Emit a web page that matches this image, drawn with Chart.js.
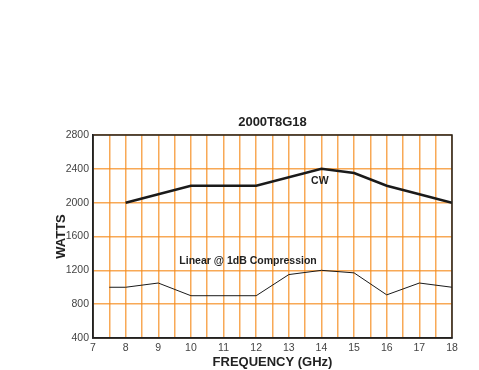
<!DOCTYPE html>
<html>
<head>
<meta charset="utf-8">
<script src="https://cdn.jsdelivr.net/npm/chart.js@4.4.0/dist/chart.umd.min.js"></script>
<style>
  html, body { margin: 0; padding: 0; background: #fff; }
  #wrap { width: 479px; height: 370px; }
</style>
</head>
<body>
<div id="wrap"><canvas id="myChart" width="479" height="370"></canvas></div>
<script>
// values
const cwFreq = [8, 10, 12, 14, 15, 16, 17, 18];
const cwWatts = [2000, 2200, 2200, 2400, 2350, 2200, 2100, 2000];
const linFreq = [7.5, 8, 9, 10, 12, 13, 14, 15, 16, 17, 18];
const linWatts = [1000, 1000, 1050, 900, 900, 1150, 1200, 1170, 910, 1050, 1000];
const yTicks = [400, 800, 1200, 1600, 2000, 2400, 2800];
const xTicks = [7, 8, 9, 10, 11, 12, 13, 14, 15, 16, 17, 18];

const gridOrange = 'rgba(245, 140, 30, 0.75)';
const fontFam = '"Liberation Sans", Arial, sans-serif';

function toPoints(xs, ys) {
  return xs.map((x, i) => ({ x: x, y: ys[i] }));
}

// frame, title and curve labels
const extras = {
  id: 'extras',
  afterDatasetsDraw(chart) {
    const ctx = chart.ctx;
    const a = chart.chartArea;
    const xs = chart.scales.x, ys = chart.scales.y;
    ctx.save();
    ctx.strokeStyle = '#222';
    ctx.lineWidth = 1.5;
    ctx.strokeRect(a.left, a.top, a.right - a.left, a.bottom - a.top);
    ctx.fillStyle = '#222';
    ctx.textAlign = 'center';
    ctx.textBaseline = 'middle';
    ctx.font = 'bold 13px ' + fontFam;
    ctx.fillText('2000T8G18', (a.left + a.right) / 2, a.top - 12.5);
    ctx.font = 'bold 10.5px ' + fontFam;
    ctx.fillText('CW', xs.getPixelForValue(13.95), ys.getPixelForValue(2250));
    ctx.fillText('Linear @ 1dB Compression', xs.getPixelForValue(11.75), ys.getPixelForValue(1305));
    ctx.restore();
  }
};

new Chart(document.getElementById('myChart').getContext('2d'), {
  type: 'line',
  data: {
    datasets: [{
      label: 'CW',
      data: toPoints(cwFreq, cwWatts),
      borderColor: '#1a1a1a',
      borderWidth: 2.5,
      pointRadius: 0,
      tension: 0
    }, {
      label: 'Linear @ 1dB Compression',
      data: toPoints(linFreq, linWatts),
      borderColor: '#1a1a1a',
      borderWidth: 1,
      pointRadius: 0,
      tension: 0
    }]
  },
  options: {
    responsive: false,
    animation: false,
    layout: { padding: { left: 0, right: 27, top: 135, bottom: 0 } },
    plugins: {
      legend: { display: false },
      tooltip: { enabled: false },
      title: { display: false }
    },
    scales: {
      x: {
        type: 'linear',
        min: 7,
        max: 18,
        afterBuildTicks(scale) {
          const t = [];
          for (let v = 7; v <= 18; v += 0.5) t.push({ value: v });
          scale.ticks = t;
        },
        afterFit(scale) { scale.height = 32; },
        ticks: {
          autoSkip: false,
          maxRotation: 0,
          padding: 4,
          color: '#444',
          font: { family: fontFam, size: 10.5 },
          callback: function (v) { return xTicks.includes(v) ? String(v) : ''; }
        },
        grid: { color: gridOrange, lineWidth: 1.5, drawTicks: false },
        border: { color: '#222', width: 1.5 },
        title: {
          display: true,
          text: 'FREQUENCY (GHz)',
          color: '#222',
          font: { family: fontFam, size: 13, weight: 'bold' },
          padding: { top: 0, bottom: 0 }
        }
      },
      y: {
        min: 400,
        max: 2800,
        afterBuildTicks(scale) {
          scale.ticks = yTicks.map(v => ({ value: v }));
        },
        afterFit(scale) { scale.width = 93; },
        ticks: {
          padding: 4,
          color: '#444',
          font: { family: fontFam, size: 10.5 },
          callback: function (v) { return String(v); }
        },
        grid: { color: gridOrange, lineWidth: 1.5, drawTicks: false },
        border: { color: '#222', width: 1.5 },
        title: {
          display: true,
          text: 'WATTS',
          color: '#222',
          font: { family: fontFam, size: 13, weight: 'bold' },
          padding: { top: 54, bottom: 0 }
        }
      }
    }
  },
  plugins: [extras]
});
</script>
</body>
</html>
